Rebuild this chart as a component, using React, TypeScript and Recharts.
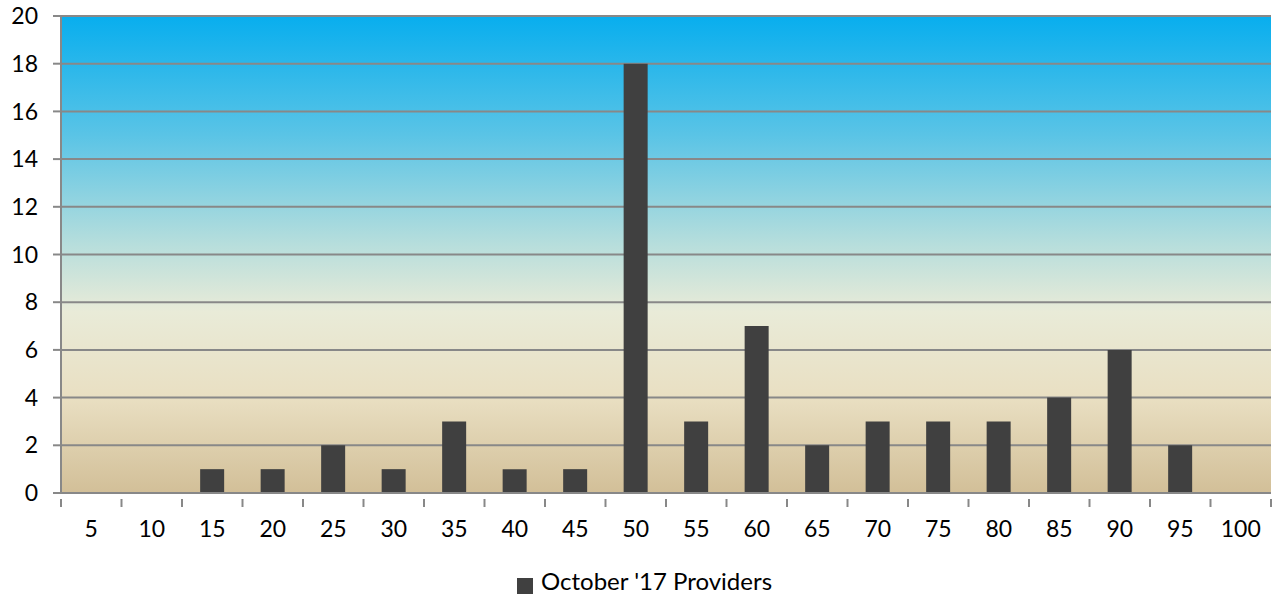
import { BarChart, Bar, XAxis, YAxis, CartesianGrid, Legend } from 'recharts';

const categories = ['5', '10', '15', '20', '25', '30', '35', '40', '45', '50', '55', '60', '65', '70', '75', '80', '85', '90', '95', '100'];
const providers = [0, 0, 1, 1, 2, 1, 3, 1, 1, 18, 3, 7, 2, 3, 3, 3, 4, 6, 2, 0];
const yTicks = [0, 2, 4, 6, 8, 10, 12, 14, 16, 18, 20];

const data = categories.map((c, i) => ({ name: c, providers: providers[i] }));

const FONT = 'Lato, "Open Sans", sans-serif';

const XTick = (props: any) => {
  const { x, y, payload, index } = props;
  const half = payload && payload.offset ? payload.offset : 30.25;
  const top = y;
  return (
    <g>
      <line x1={x - half} x2={x - half} y1={top} y2={top + 8} stroke="#888888" strokeWidth={2} />
      {index === categories.length - 1 && (
        <line x1={x + half} x2={x + half} y1={top} y2={top + 8} stroke="#888888" strokeWidth={2} />
      )}
      <text x={x} y={top + 38} textAnchor="middle" fill="#000" fontSize={23} fontFamily={FONT}>
        {payload.value}
      </text>
    </g>
  );
};

export default function App() {
  return (
    <div style={{ position: 'absolute', left: 0, top: 0, background: '#fff' }}>
      <BarChart
        width={1278}
        height={600}
        data={data}
        margin={{ top: 16, right: 7, left: 0, bottom: 0 }}
        barCategoryGap="30%"
      >
        <defs>
          <linearGradient id="bgGrad" x1="0" y1="0" x2="0" y2="1">
            <stop offset="0%" stopColor="#08aeee" />
            <stop offset="25%" stopColor="#5ac4e6" />
            <stop offset="48%" stopColor="#b7dedc" />
            <stop offset="62%" stopColor="#e9ebd8" />
            <stop offset="80%" stopColor="#e9dfc2" />
            <stop offset="100%" stopColor="#d2bf98" />
          </linearGradient>
        </defs>
        <CartesianGrid
          vertical={false}
          stroke="#888888"
          strokeWidth={2}
          fill="url(#bgGrad)"
          fillOpacity={1}
        />
        <XAxis
          dataKey="name"
          tickLine={false}
          tickMargin={0}
          axisLine={{ stroke: '#888888', strokeWidth: 2 }}
          tick={<XTick />}
          interval={0}
          height={73}
        />
        <YAxis
          domain={[0, 20]}
          ticks={yTicks}
          interval={0}
          width={61}
          tickSize={8}
          tickMargin={15}
          tickLine={{ stroke: '#888888', strokeWidth: 2 }}
          axisLine={{ stroke: '#888888', strokeWidth: 2 }}
          tick={{ fill: '#000', fontSize: 23, fontFamily: FONT }}
        />
        <Legend
          verticalAlign="bottom"
          align="center"
          iconType="square"
          iconSize={16}
          formatter={(v: any) => (
            <span style={{ color: '#000', fontSize: 24, fontFamily: FONT, marginLeft: 4 }}>{v}</span>
          )}
          wrapperStyle={{ lineHeight: '30px', paddingLeft: 14 }}
        />
        <Bar
          dataKey="providers"
          name="October '17 Providers"
          fill="#404040"
          isAnimationActive={false}
        />
      </BarChart>
    </div>
  );
}
